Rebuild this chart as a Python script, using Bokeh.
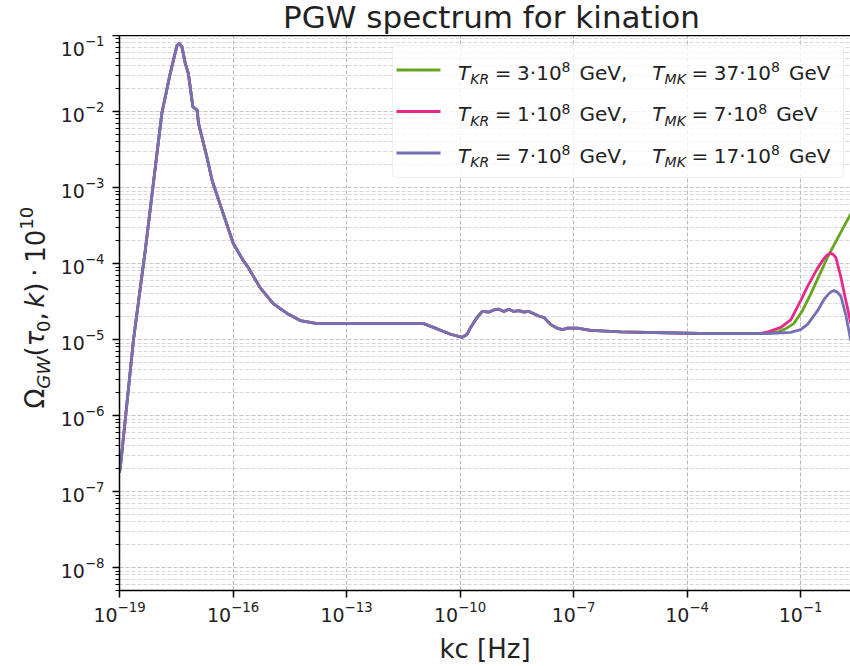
import math
from bokeh.plotting import figure
from bokeh.models import FixedTicker, Label, BoxAnnotation, LinearAxis, Range1d
from bokeh.layouts import column, row
from bokeh.embed import file_html
from bokeh.resources import INLINE

# ---------------- data (log10 values) ----------------
base_logk = [-19.00, -18.96, -18.63, -18.32, -17.88, -17.66, -17.48, -17.42, -17.35, -17.26,
             -17.18, -17.06, -16.95, -16.91, -16.69, -16.55, -16.20, -15.99, -15.73, -15.60,
             -15.28, -14.93, -14.56, -14.22, -13.77, -13.16, -10.96, -10.60, -10.25, -9.94,
             -9.81, -9.72, -9.55, -9.41, -9.24, -9.11, -8.97, -8.84, -8.71, -8.58,
             -8.44, -8.31, -8.18, -8.05, -7.92, -7.78, -7.61, -7.43, -7.30, -7.16,
             -6.90, -6.55, -5.75, -3.64, -2.05]
base_logO = [-6.75, -6.60, -5.00, -3.83, -2.02, -1.50, -1.13, -1.105, -1.15, -1.37,
             -1.50, -1.94, -1.98, -2.16, -2.60, -2.91, -3.43, -3.74, -3.96, -4.05,
             -4.32, -4.53, -4.66, -4.75, -4.79, -4.79, -4.79, -4.86, -4.93, -4.97,
             -4.93, -4.84, -4.71, -4.63, -4.64, -4.61, -4.60, -4.63, -4.60, -4.63,
             -4.62, -4.64, -4.63, -4.66, -4.69, -4.71, -4.80, -4.85, -4.87, -4.85,
             -4.85, -4.88, -4.90, -4.92, -4.92]

green_logk = [-1.87, -1.61, -1.40, -1.18, -0.95, -0.73, -0.50, -0.29, 0.02, 0.33]
green_logO = [-4.92, -4.90, -4.86, -4.79, -4.62, -4.40, -4.15, -3.92, -3.63, -3.345]

pink_logk = [-1.87, -1.52, -1.26, -0.99, -0.815, -0.55, -0.376, -0.30, -0.22, -0.14, -0.067,
             0.066, 0.198, 0.33]
pink_logO = [-4.90, -4.84, -4.74, -4.48, -4.30, -4.06, -3.93, -3.89, -3.865, -3.88, -3.92,
             -4.18, -4.49, -4.79]

purple_logk = [-1.87, -1.26, -1.00, -0.815, -0.55, -0.376, -0.24, -0.17, -0.11, -0.03, 0.066,
               0.198, 0.33]
purple_logO = [-4.92, -4.905, -4.87, -4.80, -4.62, -4.47, -4.39, -4.365, -4.356, -4.375, -4.43,
               -4.68, -5.02]

T_KR = ["3", "1", "7"]
T_MK = ["37", "7", "17"]
colors = ["#66a61e", "#e7298a", "#7570b3"]
tails = [(green_logk, green_logO), (pink_logk, pink_logO), (purple_logk, purple_logO)]

x_major_exp = list(range(-19, 1, 3))
y_major_exp = list(range(-8, 0))
y_minor_exp = list(range(-9, -1))

title_text = "PGW spectrum for kination"
xlabel_text = "kc [Hz]"

# ---------------- layout geometry (canvas px) ----------------
W, H = 850, 666
TOP_H = 35           # strip holding the title
LEFT_W = 56          # strip holding the y label
FL, FB = 119, 590    # frame left / bottom in canvas px
TXT = "#222222"
DSC = 0.236          # font descent (em) -> baseline correction

# ---------------- main figure ----------------
p = figure(width=W - LEFT_W, height=H - TOP_H, x_axis_type="log", y_axis_type="log",
           x_range=Range1d(1e-19, 10 ** 0.32), y_range=Range1d(5e-9, 1e-1),
           min_border_left=FL - LEFT_W, min_border_right=0, min_border_top=0,
           min_border_bottom=H - FB, toolbar_location=None, output_backend="svg",
           background_fill_color="white", border_fill_color="white")
p.outline_line_color = None

p.xaxis.ticker = FixedTicker(ticks=[float(f"1e{e}") for e in x_major_exp], minor_ticks=[])
p.yaxis.ticker = FixedTicker(ticks=[float(f"1e{e}") for e in y_major_exp],
                             minor_ticks=[m * float(f"1e{e}") for e in y_minor_exp for m in range(2, 10)])

for ax in (p.xaxis, p.yaxis):
    ax.axis_line_width = 1.5
    ax.axis_line_color = "black"
    ax.major_tick_out = 7
    ax.major_tick_in = 0
    ax.minor_tick_out = 4
    ax.minor_tick_in = 0
    ax.major_tick_line_width = 1.5
    ax.minor_tick_line_width = 1.1
    ax.major_tick_line_color = "black"
    ax.minor_tick_line_color = "black"
    ax.major_label_text_font = "DejaVu Sans"
    ax.major_label_text_font_size = "19px"
    ax.major_label_text_color = TXT
p.xaxis.major_label_standoff = 3
p.yaxis.major_label_standoff = 8

p.xaxis.axis_label = xlabel_text
p.xaxis.axis_label_text_font = "DejaVu Sans"
p.xaxis.axis_label_text_font_size = "26px"
p.xaxis.axis_label_text_font_style = "normal"
p.xaxis.axis_label_text_color = TXT
p.xaxis.axis_label_standoff = 9

p.xgrid.grid_line_color = "#b8b8b8"
p.xgrid.grid_line_dash = "4 2"
p.xgrid.grid_line_width = 1
p.ygrid.grid_line_color = "#c4c4c4"
p.ygrid.grid_line_dash = "4 2"
p.ygrid.grid_line_width = 1
p.ygrid.minor_grid_line_color = "#d2d2d2"
p.ygrid.minor_grid_line_dash = "4 2"
p.ygrid.minor_grid_line_width = 0.9

top = LinearAxis(ticker=FixedTicker(ticks=[]), major_label_text_font_size="0px",
                 major_tick_line_color=None, minor_tick_line_color=None,
                 major_tick_out=0, minor_tick_out=0, major_label_standoff=0,
                 axis_line_width=1.5, axis_line_color="black")
p.add_layout(top, "above")

# ---------------- curves ----------------
for (lk, lo), c in zip(tails, colors):
    ks = [10 ** v for v in base_logk + lk]
    os_ = [10 ** v for v in base_logO + lo]
    p.line(ks, os_, line_color=c, line_width=2.8)

# ---------------- helpers ----------------
WID = {'0': .636, '1': .636, '2': .636, '3': .636, '4': .636, '5': .636, '6': .636,
       '7': .636, '8': .636, '9': .636, ' ': .318, '=': .838, '·': .318, ',': .318,
       'G': .775, 'e': .615, 'V': .684, 'T': .611, 'K': .656, 'R': .695, 'M': .863,
       'W': .989, 'Ω': .764, '(': .390, ')': .390, 'τ': .553, 'k': .579}

def tw(s, size):
    return sum(WID.get(ch, 0.6) for ch in s) * size

def lab(fig, text, x, y, size, style="normal", align="left", angle=0.0, units="data"):
    fig.add_layout(Label(x=x, y=y, x_units=units, y_units=units, text=text,
                         text_font="DejaVu Sans", text_font_size=f"{size}px",
                         text_font_style=style, text_align=align,
                         text_baseline="alphabetic", angle=angle, text_color=TXT,
                         level="overlay"))

def bare(width, height, bottom=0):
    f = figure(width=width, height=height, x_range=Range1d(0, width),
               y_range=Range1d(0, height - bottom),
               min_border_left=0, min_border_right=0, min_border_top=0,
               min_border_bottom=bottom, toolbar_location=None, output_backend="svg",
               x_axis_location=None, y_axis_location=None,
               background_fill_color="white", border_fill_color="white")
    f.outline_line_color = None
    f.grid.visible = False
    return f

# ---------------- title strip ----------------
tfig = bare(W, TOP_H)
lab(tfig, title_text, 491, TOP_H - 24 + DSC * 31, 31, align="center")

# ---------------- y-label strip (rotated, composed); frame spans canvas y 35..590 ----------------
lfig = bare(LEFT_W, H - TOP_H, bottom=H - FB)
F, S = 26, 18.2
ypieces = [("Ω", "normal", F, 0), ("GW", "italic", S, 6), ("(", "normal", F, 0),
           ("τ", "italic", F, 0), ("0", "normal", S, 6), (",", "normal", F, 0),
           (None, 0.17 * F), ("k", "italic", F, 0), (")", "normal", F, 0),
           (None, 0.22 * F), ("·", "normal", F, 0), (None, 0.22 * F),
           ("10", "normal", F, 0), ("10", "normal", S, -11)]
bx, cy = 41, 408
for pc in ypieces:
    if pc[0] is None:
        cy -= pc[1]
        continue
    t, st, sz, sh = pc
    lab(lfig, t, bx + sh - DSC * sz, FB - cy, round(sz, 1), style=st, angle=math.pi / 2)
    cy -= tw(t, sz)

# ---------------- legend (inside main frame, screen units) ----------------
def scr(cx, cy):
    return cx - FL, FB - cy

lb_l, lb_r, lb_t, lb_b = 392, 843, 45, 177
bl, bb = scr(lb_l, lb_b)
br, bt = scr(lb_r, lb_t)
p.add_layout(BoxAnnotation(left=bl, right=br, top=bt, bottom=bb, left_units="screen",
                           right_units="screen", top_units="screen", bottom_units="screen",
                           fill_color="white", fill_alpha=0.8, line_color="#cccccc",
                           line_width=1, border_radius=4, level="overlay"))

LF, LS = 20, 14
row_base = [77, 118.5, 160]
for i, (kr, mk) in enumerate(zip(T_KR, T_MK)):
    yb = row_base[i]
    sl, sb = scr(396, yb - 7.5 + 1.4)
    sr, st_ = scr(440, yb - 7.5 - 1.4)
    p.add_layout(BoxAnnotation(left=sl, right=sr, top=st_, bottom=sb, left_units="screen",
                               right_units="screen", top_units="screen", bottom_units="screen",
                               fill_color=colors[i], fill_alpha=1.0, line_color=None,
                               level="overlay"))
    pieces = [("T", "italic", LF, 0), ("KR", "italic", LS, 5), (None, 0.28 * LF),
              ("=", "normal", LF, 0), (None, 0.28 * LF), (kr, "normal", LF, 0),
              ("·", "normal", LF, 0), ("10", "normal", LF, 0), ("8", "normal", LS, -7),
              (None, 0.45 * LF), ("GeV,", "normal", LF, 0), (None, 1.25 * LF),
              ("T", "italic", LF, 0), ("MK", "italic", LS, 5), (None, 0.28 * LF),
              ("=", "normal", LF, 0), (None, 0.28 * LF), (mk, "normal", LF, 0),
              ("·", "normal", LF, 0), ("10", "normal", LF, 0), ("8", "normal", LS, -7),
              (None, 0.45 * LF), ("GeV", "normal", LF, 0)]
    cx = 457.5
    for pc in pieces:
        if pc[0] is None:
            cx += pc[1]
            continue
        t, st, sz, sh = pc
        sx, sy = scr(cx, yb + sh - DSC * sz)
        lab(p, t, sx, sy, sz, style=st, units="screen")
        cx += tw(t, sz)

layout = column(tfig, row(lfig, p, spacing=0), spacing=0)
open("out.html", "w", encoding="utf-8").write(file_html(layout, INLINE))
